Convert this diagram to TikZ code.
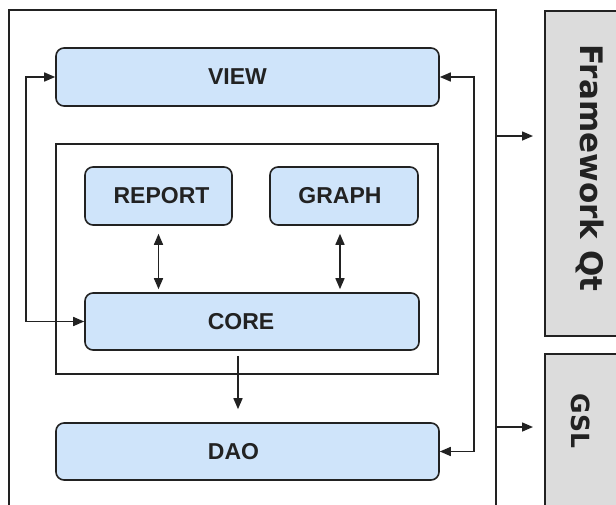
\documentclass[tikz,border=0pt]{standalone}
\usepackage{fontspec}
\setmainfont{Liberation Sans}
\newfontfamily\dvfont{DejaVu Sans}
\usetikzlibrary{arrows.meta,calc}
\definecolor{boxblue}{HTML}{CFE4FA}
\definecolor{sidegray}{HTML}{DCDCDC}
\definecolor{ink}{HTML}{222222}
\begin{document}
\begin{tikzpicture}[x=1pt,y=-1pt,
  comp/.style={draw=ink, line width=1.6pt, rounded corners=8pt, fill=boxblue, inner sep=0pt},
  lbl/.style={font=\fontsize{23}{23}\selectfont\bfseries, text=ink},
  side/.style={draw=ink, line width=1.5pt, fill=sidegray, inner sep=0pt, anchor=north west},
  con/.style={line width=1.5pt, draw=ink, -{Triangle[length=11pt,width=9pt]}},
  bicon/.style={line width=1.5pt, draw=ink, {Triangle[length=11pt,width=9pt]}-{Triangle[length=11pt,width=9pt]}},
  frameline/.style={draw=ink, line width=1.5pt}]
\useasboundingbox (0,0) rectangle (616,504);
\fill[white] (0,0) rectangle (616,504);
% outer frame (open at the bottom, cut by the page)
\draw[frameline] (9,530) -- (9,10) -- (496,10) -- (496,530);
% inner frame
\draw[frameline] (56,144) rectangle (438,374);
% components
\node[comp, minimum width=383pt, minimum height=58pt, label={[lbl, xshift=-10pt]center:VIEW}] (view) at (247.5,77) {};
\node[comp, minimum width=147pt, minimum height=58pt, label={[lbl, xshift=3pt]center:REPORT}] (report) at (158.5,196) {};
\node[comp, minimum width=148pt, minimum height=58pt, label={[lbl, xshift=-4pt]center:GRAPH}] (graph) at (344,196) {};
\node[comp, minimum width=334pt, minimum height=57pt, label={[lbl, xshift=-11pt]center:CORE}] (core) at (252,321.5) {};
\node[comp, minimum width=383pt, minimum height=57pt, label={[lbl, xshift=-14pt]center:DAO}] (dao) at (247.5,451.5) {};
% side boxes
\node[side, minimum width=90pt, minimum height=325pt] (qt) at (544,10) {};
\node[side, minimum width=90pt, minimum height=170pt] (gsl) at (544,353) {};
\node[rotate=-90, font=\dvfont\bfseries\fontsize{31}{31}\selectfont, text=ink] (qtlbl) at (590,168) {Framework Qt};
\node[rotate=-90, font=\dvfont\bfseries\fontsize{25}{25}\selectfont, text=ink] (gsllbl) at (581,421) {GSL};
% connectors
\draw[bicon] (view.west) -- ++(-29,0) |- (core.west);
\draw[bicon] (view.east) -- ++(34,0) |- (dao.east);
\draw[bicon] ($(report.south)+(0,8)$) -- ($(report.south |- core.north)+(0,-3)$);
\draw[bicon] ($(graph.south)+(-4,8)$) -- ($(graph.south |- core.north)+(-4,-3)$);
\draw[con] ($(core.south)+(-14,5)$) -- ($(dao.north)+(-9.5,-13)$);
\coordinate (o1) at (496,136);
\coordinate (o2) at (496,427);
\draw[con] (o1) -- ($(qt.west |- o1)+(-11,0)$);
\draw[con] (o2) -- ($(gsl.west |- o2)+(-11,0)$);
\end{tikzpicture}
\end{document}
